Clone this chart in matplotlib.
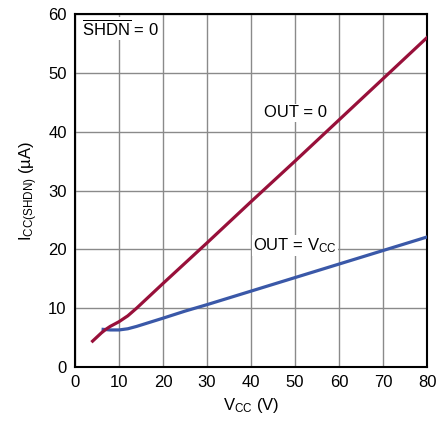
import matplotlib
matplotlib.use("Agg")
import matplotlib.pyplot as plt

plt.rcParams['font.family'] = ['Liberation Sans Narrow', 'Liberation Sans', 'DejaVu Sans']
plt.rcParams['mathtext.default'] = 'regular'

# OUT = 0 curve
vcc_out0 = [4, 5, 6, 7, 8, 9, 10, 12, 14, 17, 20, 30, 40, 50, 60, 70, 80]
icc_out0 = [4.4, 5.1, 5.8, 6.4, 6.9, 7.3, 7.7, 8.7, 10.0, 12.1, 14.2, 21.1, 28.1, 35.0, 42.0, 49.0, 56.0]

# OUT = VCC curve
vcc_outv = [6.4, 8, 10, 11, 12, 14, 17, 20, 25, 30, 40, 50, 60, 70, 80]
icc_outv = [6.4, 6.3, 6.3, 6.4, 6.5, 6.9, 7.6, 8.3, 9.5, 10.6, 12.9, 15.2, 17.5, 19.8, 22.1]

xticks = list(range(0, 81, 10))
yticks = list(range(0, 61, 10))

fig = plt.figure(figsize=(4.38, 4.22), dpi=100)
ax = fig.add_axes([0.1712, 0.1303, 0.8038, 0.8365])

ax.plot(vcc_outv, icc_outv, color='#3A58A8', lw=2.3, zorder=3)
ax.plot(vcc_out0, icc_out0, color='#98103A', lw=2.3, zorder=4)

ax.set_xlim(0, 80)
ax.set_ylim(0, 60)
ax.set_xticks(xticks)
ax.set_yticks(yticks)
ax.tick_params(length=0, labelsize=12, pad=6)
ax.grid(True, color='#8a8a8a', lw=1)
for s in ax.spines.values():
    s.set_linewidth(1.5)

ax.set_xlabel('V$_{CC}$ (V)', fontsize=12, labelpad=4)
ax.set_ylabel('I$_{CC(SHDN)}$ (µA)', fontsize=12, labelpad=6)

box = dict(facecolor='white', edgecolor='none', pad=1)
ax.text(1.6, 57.5, r'$\overline{\mathregular{SHDN}}$ = 0', fontsize=12,
        va='center', ha='left', bbox=box, zorder=5)
ax.text(50, 43.2, 'OUT = 0', fontsize=12, va='center', ha='center', bbox=box, zorder=5)
ax.text(50, 20.6, 'OUT = V$_{CC}$', fontsize=12, va='center', ha='center', bbox=box, zorder=5)

fig.savefig('out.png', dpi=100)
